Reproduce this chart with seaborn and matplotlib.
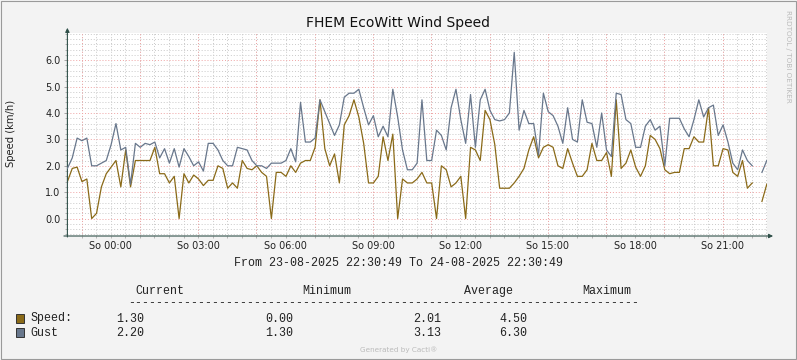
import numpy as np
import pandas as pd
import matplotlib
matplotlib.use("Agg")
import matplotlib.pyplot as plt
import matplotlib.dates as mdates
from matplotlib.ticker import MultipleLocator, FixedLocator, FormatStrFormatter
from matplotlib.patches import Rectangle
import seaborn as sns

# ---------------- data ----------------
TITLE = "FHEM EcoWitt Wind Speed"
Y_LABEL = "Speed (km/h)"
START = "2025-08-23 22:30:49"
STEP = "10min"

speed = [1.4, 1.9, 1.95, 1.4, 1.5, 0.0, 0.2, 1.2, 1.7, 1.95,
         2.2, 1.2, 2.6, 1.2, 2.2, 2.2, 2.2, 2.2, 2.7, 1.7,
         1.7, 1.35, 1.6, 0.0, 1.7, 1.35, 1.65, 1.5, 1.25, 1.45,
         1.45, 2.0, 1.9, 1.15, 1.35, 1.15, 2.2, 1.9, 1.85, 2.0,
         1.75, 1.6, 0.0, 1.75, 1.75, 1.6, 2.0, 1.75, 2.1, 2.2,
         2.2, 2.7, 4.5, 2.65, 2.0, 2.45, 1.35, 3.55, 3.9, 4.5,
         3.85, 2.85, 1.35, 1.35, 1.6, 3.1, 2.2, 3.2, 0.0, 1.5,
         1.35, 1.35, 1.5, 1.75, 1.35, 1.35, 0.0, 2.0, 1.85, 1.2,
         1.35, 1.6, 0.0, 2.7, 2.6, 2.2, 4.1, 3.75, 2.8, 1.15,
         1.15, 1.15, 1.35, 1.6, 1.9, 2.6, 3.1, 2.3, 2.7, 2.8,
         2.7, 2.0, 1.9, 2.65, 2.1, 1.6, 1.6, 1.85, 2.85, 2.2,
         2.2, 2.5, 1.6, 4.5, 1.9, 2.1, 2.6, 1.95, 1.6, 2.0,
         3.15, 3.0, 2.65, 1.85, 1.7, 1.75, 1.75, 2.65, 2.65, 3.1,
         2.9, 2.9, 4.2, 2.0, 2.0, 2.65, 2.6, 1.75, 1.6, 2.2,
         1.15, 1.35, np.nan, 0.65, 1.3]

gust = [1.9, 2.3, 3.05, 2.95, 3.05, 2.0, 2.0, 2.1, 2.2, 2.8,
        3.6, 2.6, 2.7, 1.3, 2.85, 2.7, 2.85, 2.8, 2.9, 2.3,
        2.65, 2.1, 2.65, 1.95, 2.65, 2.35, 2.0, 2.15, 1.8, 2.85,
        2.85, 2.6, 2.2, 2.0, 2.0, 2.7, 2.65, 2.6, 2.2, 2.0,
        2.0, 1.9, 2.1, 2.1, 2.1, 2.2, 2.65, 2.15, 4.4, 2.9,
        2.9, 3.05, 4.5, 4.05, 3.6, 3.15, 3.55, 4.6, 4.75, 4.75,
        4.9, 4.2, 3.55, 3.9, 3.1, 3.5, 3.1, 4.9, 3.85, 2.6,
        1.85, 1.85, 2.1, 4.5, 2.2, 2.2, 3.35, 3.15, 2.6, 4.2,
        4.9, 3.75, 2.85, 4.7, 2.7, 4.5, 4.9, 4.1, 3.75, 3.7,
        3.75, 4.0, 6.3, 3.35, 4.1, 3.6, 3.6, 2.4, 4.75, 4.05,
        3.9, 3.5, 2.85, 4.2, 3.0, 2.9, 4.5, 3.65, 3.6, 2.7,
        4.0, 2.6, 2.35, 4.75, 4.7, 3.75, 3.6, 2.7, 2.7, 3.5,
        3.75, 3.35, 3.5, 2.0, 3.8, 3.8, 3.8, 3.4, 3.1, 3.75,
        4.5, 3.85, 4.2, 4.3, 3.15, 3.55, 2.9, 2.1, 1.85, 2.6,
        2.2, 2.0, np.nan, 1.75, 2.2]

y_ticks = [0, 1, 2, 3, 4, 5, 6]
label_hours = [0, 3, 6, 9, 12, 15, 18, 21]
major_grid_hours = [1, 3, 5, 7, 9, 11, 13, 15, 17, 19, 21, 23]

period_text = "From 23-08-2025 22:30:49 To 24-08-2025 22:30:49"
legend_headers = ["Current", "Minimum", "Average", "Maximum"]
legend_series = ["Speed:", "Gust"]
legend_current = ["1.30", "2.20"]
legend_min = ["0.00", "1.30"]
legend_avg = ["2.01", "3.13"]
legend_max = ["4.50", "6.30"]

# ---------------- style ----------------
W, H = 797, 360
BG = "#F3F3F3"
SPEED_C = "#8A6A18"
GUST_C = "#68778C"
AXIS_C = "#2F5049"
MINOR_C = "#C9C9C9"
MAJOR_C = "#EFA3A3"

plt.rcParams["font.family"] = ["DejaVu Sans"]


def fx(x):
    return x / W


def fy(y):
    return 1 - y / H


times = pd.date_range(START, periods=len(speed), freq=STEP)
df = pd.DataFrame({"time": times, "speed": speed, "gust": gust})
df["seg"] = df["gust"].isna().cumsum()

fig = plt.figure(figsize=(W / 100, H / 100), dpi=100, facecolor=BG)
ax = fig.add_axes([fx(67.4), fy(236), fx(699.4), (236 - 33.3) / H])
ax.set_facecolor("white")

sns.lineplot(data=df, x="time", y="speed", units="seg", estimator=None,
             color=SPEED_C, lw=0.9, ax=ax, legend=False, zorder=3)
sns.lineplot(data=df, x="time", y="gust", units="seg", estimator=None,
             color=GUST_C, lw=0.9, ax=ax, legend=False, zorder=4)

ax.set_xlim(times[0], times[-1])
ax.set_ylim(-0.66, 7.02)
ax.set_xlabel("")
ax.set_ylabel("")

ax.xaxis.set_major_locator(mdates.HourLocator(byhour=label_hours))
ax.xaxis.set_major_formatter(mdates.DateFormatter("So %H:%M"))
ax.xaxis.set_minor_locator(mdates.MinuteLocator(byminute=[0, 30]))
ax.xaxis.remove_overlapping_locs = False
ax.yaxis.set_major_locator(FixedLocator(y_ticks))
ax.yaxis.set_major_formatter(FormatStrFormatter("%.1f"))
ax.yaxis.set_minor_locator(MultipleLocator(0.2))

ax.set_axisbelow(True)
ax.grid(False)
ax.xaxis.grid(True, which="minor", color=MINOR_C, lw=0.7, linestyle=(0, (1, 2)))
ax.yaxis.grid(True, which="minor", color=MINOR_C, lw=0.7, linestyle=(0, (1, 2)))
ax.yaxis.grid(True, which="major", color=MAJOR_C, lw=0.7, linestyle=(0, (1, 2)))

red_loc = mdates.HourLocator(byhour=major_grid_hours)
for v in red_loc.tick_values(times[0].to_pydatetime(), times[-1].to_pydatetime()):
    ax.axvline(v, color=MAJOR_C, lw=0.7, linestyle=(0, (1, 2)), zorder=1)

ax.tick_params(axis="y", which="major", length=2.2, width=0.6, color="#999999",
               labelsize=7, pad=2.8, labelcolor="#222222")
ax.tick_params(axis="y", which="minor", length=1.5, width=0.6, color="#AAAAAA")
ax.tick_params(axis="x", which="major", length=0, labelsize=7, pad=3.8,
               labelcolor="#222222")
ax.tick_params(axis="x", which="minor", length=1.5, width=0.6, color="#AAAAAA")

for s in ax.spines.values():
    s.set_visible(False)

# axes with arrows
ax.annotate("", xy=(1.009, 0), xytext=(-0.005, 0), xycoords="axes fraction",
            arrowprops=dict(arrowstyle="-|>", color=AXIS_C, lw=0.8,
                            mutation_scale=6, shrinkA=0, shrinkB=0),
            annotation_clip=False)
ax.annotate("", xy=(0, 1.027), xytext=(0, -0.005), xycoords="axes fraction",
            arrowprops=dict(arrowstyle="-|>", color=AXIS_C, lw=0.8,
                            mutation_scale=6, shrinkA=0, shrinkB=0),
            annotation_clip=False)

# title and labels
fig.text(fx(398), fy(22.5), TITLE, ha="center", va="center", fontsize=10,
         color="#111111")
fig.text(fx(11), fy(133.5), Y_LABEL, rotation=90, ha="center", va="center",
         fontsize=7.2, color="#222222")
fig.text(fx(788), fy(56), "RRDTOOL / TOBI OETIKER", rotation=270, ha="center",
         va="center", fontsize=5.2, color="#BBBBBB")
fig.text(fx(399), fy(349.5), "Generated by Cacti®", ha="center", va="center",
         fontsize=5.2, color="#BBBBBB")

# legend (monospace)
MONO = dict(family=["Liberation Mono", "DejaVu Sans Mono"], fontsize=8.4,
            color="#222222", va="center")
fig.text(fx(398), fy(263), period_text, ha="center", **MONO)
for hx, h in zip([135, 302.7, 464, 582.7], legend_headers):
    fig.text(fx(hx), fy(291), h, ha="left", **MONO)
fig.text(fx(128.3), fy(303), "-" * 73, ha="left", **MONO)

row_y = [318.5, 332.5]
colors = [SPEED_C, GUST_C]
for i in range(2):
    fig.patches.append(Rectangle((fx(15.5), fy(row_y[i] + 4.5)), 8.5 / W, 9 / H,
                                 transform=fig.transFigure, facecolor=colors[i],
                                 edgecolor="#333333", lw=0.7))
    fig.text(fx(30.5), fy(row_y[i]), legend_series[i], ha="left", **MONO)
    fig.text(fx(116), fy(row_y[i]), legend_current[i], ha="left", **MONO)
    fig.text(fx(265), fy(row_y[i]), legend_min[i], ha="left", **MONO)
    fig.text(fx(413.5), fy(row_y[i]), legend_avg[i], ha="left", **MONO)
    fig.text(fx(499.5), fy(row_y[i]), legend_max[i], ha="left", **MONO)

# outer border
fig.patches.append(Rectangle((0.5 / W, 1.5 / H), (W - 1.5) / W, (H - 2) / H,
                             transform=fig.transFigure, facecolor="none",
                             edgecolor="#9A9A9A", lw=0.8))

fig.savefig("out.png", dpi=100, facecolor=BG)
